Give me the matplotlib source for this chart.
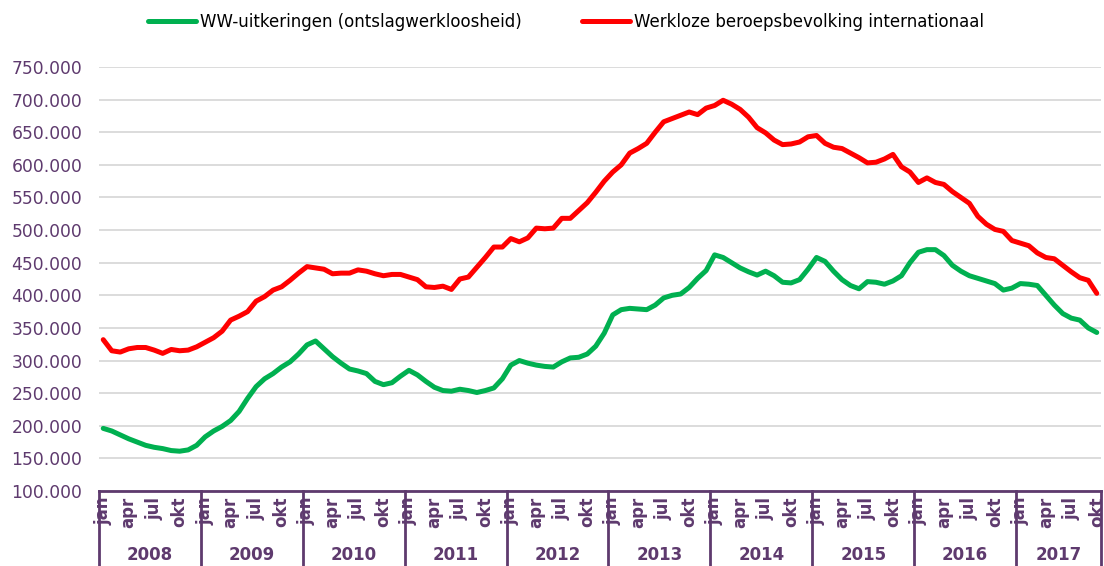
import numpy as np
import matplotlib
matplotlib.use("Agg")
import matplotlib.pyplot as plt
from matplotlib.ticker import FuncFormatter

# monthly values, jan 2008 - okt 2017 (x 1000)
ww = [196, 192, 186, 180, 175, 170, 167, 165, 162, 161, 163, 170,
      183, 192, 199, 208, 222, 242, 260, 272, 280, 290, 298, 310,
      324, 330, 318, 306, 296, 287, 284, 280, 268, 263, 266, 276,
      285, 278, 268, 259, 254, 253, 256, 254, 251, 254, 258, 272,
      293, 300, 296, 293, 291, 290, 298, 304, 305, 310, 322, 342,
      370, 378, 380, 379, 378, 385, 396, 400, 402, 412, 426, 438,
      462, 458, 450, 442, 436, 431, 437, 430, 420, 419, 424, 440,
      458, 452, 437, 424, 415, 410, 421, 420, 417, 422, 430, 450,
      466, 470, 470, 461, 446, 437, 430, 426, 422, 418, 408, 411,
      418, 417, 415, 400, 385, 372, 365, 362, 350, 343]

werkloos = [332, 315, 313, 318, 320, 320, 316, 311, 317, 315, 316, 321,
            328, 335, 345, 362, 368, 375, 391, 398, 408, 413, 423, 434,
            444, 442, 440, 433, 434, 434, 439, 437, 433, 430, 432, 432,
            428, 424, 413, 412, 414, 409, 425, 428, 443, 458, 474, 474,
            487, 482, 488, 503, 502, 503, 518, 518, 530, 542, 558, 575,
            589, 600, 618, 625, 633, 650, 666, 671, 676, 681, 677, 687,
            691, 699, 693, 685, 673, 657, 649, 638, 631, 632, 635, 643,
            645, 633, 627, 625, 618, 611, 603, 604, 609, 616, 597, 589,
            573, 580, 573, 570, 559, 550, 541, 521, 509, 501, 498, 484,
            480, 476, 465, 458, 456, 446, 436, 427, 423, 403]

years = ['2008', '2009', '2010', '2011', '2012', '2013', '2014', '2015', '2016', '2017']
month_names = ['jan', 'apr', 'jul', 'okt']

purple = '#5E3A6E'
green = '#00B050'
red = '#FF0000'

n = len(ww)
x = np.arange(n)

fig = plt.figure(figsize=(11.04, 5.66), dpi=100)
ax = fig.add_axes([99/1104, 1 - 491/566, 1002/1104, 424/566])

ax.plot(x, np.array(ww) * 1000, color=green, lw=3.6, solid_joinstyle='round',
        solid_capstyle='round', label='WW-uitkeringen (ontslagwerkloosheid)')
ax.plot(x, np.array(werkloos) * 1000, color=red, lw=3.6, solid_joinstyle='round',
        solid_capstyle='round', label='Werkloze beroepsbevolking internationaal')

ax.set_xlim(-0.5, n - 0.5)
ax.set_ylim(100000, 750000)
ax.set_yticks(np.arange(100000, 750001, 50000))
ax.yaxis.set_major_formatter(FuncFormatter(lambda v, p: '{:,.0f}'.format(v).replace(',', '.')))
ax.grid(axis='y', color='#D9D9D9', lw=1.3)
ax.set_axisbelow(True)

for s in ['left', 'top', 'right']:
    ax.spines[s].set_visible(False)
ax.spines['bottom'].set_color(purple)
ax.spines['bottom'].set_linewidth(2)

ax.tick_params(axis='y', length=0, pad=12, labelsize=12.3, labelcolor=purple)
ticks = [i for i in range(n) if i % 3 == 0]
ax.set_xticks(ticks)
ax.set_xticklabels([month_names[(i % 12) // 3] for i in ticks], rotation=90,
                   fontweight='bold', fontsize=12, color=purple)
ax.tick_params(axis='x', length=0, pad=4)

trans = ax.get_xaxis_transform()
for k, yr in enumerate(years):
    start = 12 * k
    end = min(12 * k + 11, n - 1)
    ax.text((start + end) / 2, -0.151, yr, transform=trans, ha='center', va='center',
            fontsize=12, fontweight='bold', color=purple)
    ax.plot([start - 0.5, start - 0.5], [0, -0.2], transform=trans, color=purple,
            lw=2, clip_on=False)
ax.plot([n - 0.5, n - 0.5], [0, -0.2], transform=trans, color=purple, lw=2, clip_on=False)

fig.legend(loc='center', bbox_to_anchor=(566/1104, 1 - 22/566), ncol=2, frameon=False,
           fontsize=12, handlelength=2.9, handletextpad=0.25, columnspacing=3.6)

fig.savefig('out.png', dpi=100)
